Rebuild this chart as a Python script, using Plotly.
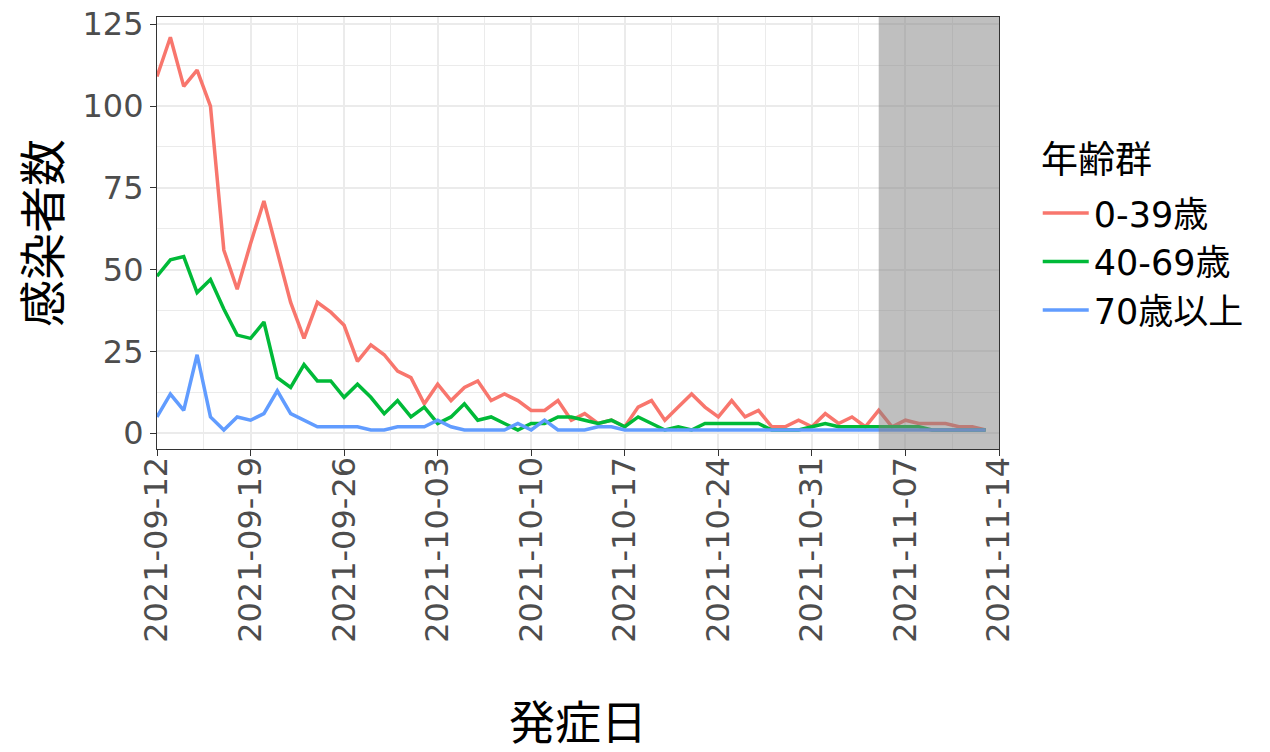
import pandas as pd
import plotly.graph_objects as go

start_date = "2021-09-12"
age_groups = ["0-39歳", "40-69歳", "70歳以上"]
legend_title = "年齢群"
cases_0_39 = [109, 121, 106, 111, 100, 56, 44, 58, 71, 55,
              40, 29, 40, 37, 33, 22, 27, 24, 19, 17,
              9, 15, 10, 14, 16, 10, 12, 10, 7, 7,
              10, 4, 6, 3, 4, 2, 8, 10, 4, 8,
              12, 8, 5, 10, 5, 7, 2, 2, 4, 2,
              6, 3, 5, 2, 7, 2, 4, 3, 3, 3,
              2, 2, 1]
cases_40_69 = [48, 53, 54, 43, 47, 38, 30, 29, 34, 17,
               14, 21, 16, 16, 11, 15, 11, 6, 10, 5,
               8, 3, 5, 9, 4, 5, 3, 1, 3, 3,
               5, 5, 4, 3, 4, 2, 5, 3, 1, 2,
               1, 3, 3, 3, 3, 3, 1, 1, 1, 2,
               3, 2, 2, 2, 2, 2, 2, 2, 1, 1,
               1, 1, 1]
cases_70_plus = [5, 12, 7, 24, 5, 1, 5, 4, 6, 13,
                 6, 4, 2, 2, 2, 2, 1, 1, 2, 2,
                 2, 4, 2, 1, 1, 1, 1, 3, 1, 4,
                 1, 1, 1, 2, 2, 1, 1, 1, 1, 1,
                 1, 1, 1, 1, 1, 1, 1, 1, 1, 1,
                 1, 1, 1, 1, 1, 1, 1, 1, 1, 1,
                 1, 1, 1]
y_ticks = [0, 25, 50, 75, 100, 125]
y_minor = [12.5, 37.5, 62.5, 87.5, 112.5]
colors = ["#F8766D", "#00BA38", "#619CFF"]
shade_start = "2021-11-05"
x_end = "2021-11-14"

dates = pd.date_range(start_date, periods=len(cases_0_39), freq="D")
series = [cases_0_39, cases_40_69, cases_70_plus]

CJK = "Noto Sans CJK JP"
LAT = "DejaVu Sans, Noto Sans CJK JP"
fig = go.Figure()
for name, vals, col in zip(age_groups, series, colors):
    fig.add_trace(go.Scatter(
        x=dates, y=vals, mode="lines", name=name, legendgroup=name,
        line=dict(color=col, width=3.5),
    ))

fig.add_shape(type="rect", xref="x", yref="paper",
              x0=shade_start, x1=x_end, y0=0, y1=1,
              fillcolor="#7F7F7F", opacity=0.5, line_width=0, layer="above")

fig.add_annotation(text=legend_title, xref="paper", yref="paper",
                   x=1.047, y=0.677, xanchor="left", yanchor="middle",
                   showarrow=False,
                   font=dict(size=37, family=CJK, color="#000000"))

DAY = 86400000
fig.update_layout(
    width=1270, height=752,
    margin=dict(l=157, r=271, t=17, b=303, autoexpand=False),
    paper_bgcolor="white", plot_bgcolor="white",
    font=dict(family=LAT, color="#000000"),
    showlegend=True,
    legend=dict(
        font=dict(size=35, family=LAT, color="#000000"),
        x=1.046, xanchor="left", y=0.614, yanchor="top",
        tracegroupgap=0, itemwidth=46,
        bgcolor="rgba(0,0,0,0)",
    ),
    xaxis=dict(
        type="date", automargin=False,
        range=[start_date, x_end],
        tick0=start_date, dtick=7 * DAY, tickformat="%Y-%m-%d",
        tickangle=-90,
        tickfont=dict(size=32, family=LAT, color="#4D4D4D"),
        ticklabelstandoff=-12,
        ticks="outside", ticklen=6, tickwidth=1.2, tickcolor="#333333",
        showgrid=True, gridcolor="#EBEBEB", gridwidth=1.6,
        minor=dict(tick0=start_date, dtick=3.5 * DAY, showgrid=True,
                   gridcolor="#EBEBEB", gridwidth=0.8),
        showline=True, linecolor="#333333", linewidth=1.2, mirror=True,
        zeroline=False,
        title=dict(text="発症日", font=dict(size=46, family=CJK, color="#000000"),
                   standoff=73),
    ),
    yaxis=dict(
        automargin=False,
        range=[-4.8, 127.2],
        tickmode="array", tickvals=y_ticks,
        tickfont=dict(size=32, family=LAT, color="#4D4D4D"),
        ticks="outside", ticklen=6, tickwidth=1.2, tickcolor="#333333",
        showgrid=True, gridcolor="#EBEBEB", gridwidth=1.6,
        minor=dict(tickmode="array", tickvals=y_minor,
                   showgrid=True, gridcolor="#EBEBEB", gridwidth=0.8),
        showline=True, linecolor="#333333", linewidth=1.2, mirror=True,
        zeroline=False,
        title=dict(text="感染者数", font=dict(size=47, family=CJK, color="#000000"),
                   standoff=6),
    ),
)

fig.write_html("out.html", config={"displayModeBar": False},
               post_script="document.body.style.margin='0';")
